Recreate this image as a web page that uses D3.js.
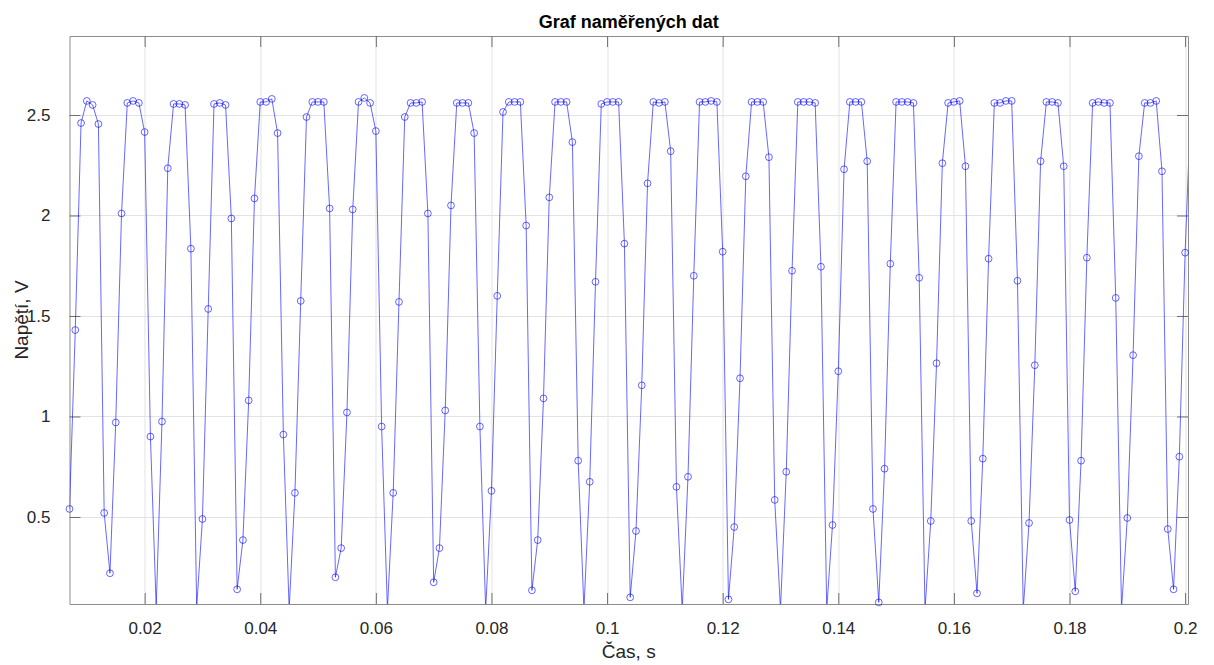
<!doctype html>
<html lang="cs">
<head>
  <meta charset="UTF-8">
  <title>Graf naměřených dat</title>
  <script src="https://cdnjs.cloudflare.com/ajax/libs/d3/7.8.5/d3.min.js"></script>
  <style>
    body { margin: 0; background: #fff; }
    svg text { font-family: "Liberation Sans", Arial, Helvetica, sans-serif; }
  </style>
</head>
<body>
<div id="chart"></div>
<script>
  // sample times (s)
  var time = [
    0.007, 0.008, 0.009, 0.010, 0.011, 0.012, 0.013, 0.014, 0.015, 0.016,
    0.017, 0.018, 0.019, 0.020, 0.021, 0.022, 0.023, 0.024, 0.025, 0.026,
    0.027, 0.028, 0.029, 0.030, 0.031, 0.032, 0.033, 0.034, 0.035, 0.036,
    0.037, 0.038, 0.039, 0.040, 0.041, 0.042, 0.043, 0.044, 0.045, 0.046,
    0.047, 0.048, 0.049, 0.050, 0.051, 0.052, 0.053, 0.054, 0.055, 0.056,
    0.057, 0.058, 0.059, 0.060, 0.061, 0.062, 0.063, 0.064, 0.065, 0.066,
    0.067, 0.068, 0.069, 0.070, 0.071, 0.072, 0.073, 0.074, 0.075, 0.076,
    0.077, 0.078, 0.079, 0.080, 0.081, 0.082, 0.083, 0.084, 0.085, 0.086,
    0.087, 0.088, 0.089, 0.090, 0.091, 0.092, 0.093, 0.094, 0.095, 0.096,
    0.097, 0.098, 0.099, 0.100, 0.101, 0.102, 0.103, 0.104, 0.105, 0.106,
    0.107, 0.108, 0.109, 0.110, 0.111, 0.112, 0.113, 0.114, 0.115, 0.116,
    0.117, 0.118, 0.119, 0.120, 0.121, 0.122, 0.123, 0.124, 0.125, 0.126,
    0.127, 0.128, 0.129, 0.130, 0.131, 0.132, 0.133, 0.134, 0.135, 0.136,
    0.137, 0.138, 0.139, 0.140, 0.141, 0.142, 0.143, 0.144, 0.145, 0.146,
    0.147, 0.148, 0.149, 0.150, 0.151, 0.152, 0.153, 0.154, 0.155, 0.156,
    0.157, 0.158, 0.159, 0.160, 0.161, 0.162, 0.163, 0.164, 0.165, 0.166,
    0.167, 0.168, 0.169, 0.170, 0.171, 0.172, 0.173, 0.174, 0.175, 0.176,
    0.177, 0.178, 0.179, 0.180, 0.181, 0.182, 0.183, 0.184, 0.185, 0.186,
    0.187, 0.188, 0.189, 0.190, 0.191, 0.192, 0.193, 0.194, 0.195, 0.196,
    0.197, 0.198, 0.199, 0.200, 0.201
  ];

  // measured voltage (V)
  var voltage = [
    0.54, 1.43, 2.46, 2.57, 2.55, 2.455, 0.52, 0.22, 0.97, 2.01,
    2.56, 2.57, 2.56, 2.415, 0.90, 0.05, 0.975, 2.235, 2.555, 2.555,
    2.55, 1.835, 0.05, 0.49, 1.535, 2.555, 2.56, 2.55, 1.985, 0.14,
    0.385, 1.08, 2.085, 2.565, 2.565, 2.58, 2.41, 0.91, 0.04, 0.62,
    1.575, 2.49, 2.565, 2.565, 2.565, 2.035, 0.20, 0.345, 1.02, 2.03,
    2.565, 2.585, 2.56, 2.42, 0.95, 0.04, 0.62, 1.57, 2.49, 2.56,
    2.56, 2.565, 2.01, 0.175, 0.345, 1.03, 2.05, 2.56, 2.56, 2.56,
    2.41, 0.95, 0.04, 0.63, 1.60, 2.515, 2.565, 2.565, 2.565, 1.95,
    0.135, 0.385, 1.09, 2.09, 2.565, 2.565, 2.565, 2.365, 0.78, 0.04,
    0.675, 1.67, 2.555, 2.565, 2.565, 2.565, 1.86, 0.10, 0.43, 1.155,
    2.16, 2.565, 2.56, 2.565, 2.32, 0.65, 0.04, 0.70, 1.70, 2.565,
    2.565, 2.57, 2.565, 1.82, 0.09, 0.45, 1.19, 2.195, 2.565, 2.565,
    2.565, 2.29, 0.585, 0.04, 0.725, 1.725, 2.565, 2.565, 2.565, 2.56,
    1.745, 0.04, 0.46, 1.225, 2.23, 2.565, 2.565, 2.565, 2.27, 0.54,
    0.075, 0.74, 1.76, 2.565, 2.565, 2.565, 2.56, 1.69, 0.04, 0.48,
    1.265, 2.26, 2.56, 2.565, 2.57, 2.245, 0.48, 0.12, 0.79, 1.785,
    2.56, 2.56, 2.57, 2.57, 1.675, 0.04, 0.47, 1.255, 2.27, 2.565,
    2.565, 2.56, 2.245, 0.485, 0.13, 0.78, 1.79, 2.56, 2.565, 2.56,
    2.56, 1.59, 0.04, 0.495, 1.305, 2.295, 2.56, 2.56, 2.57, 2.22,
    0.44, 0.14, 0.80, 1.815, 2.56
  ];

  var xTicks = [0.02, 0.04, 0.06, 0.08, 0.1, 0.12, 0.14, 0.16, 0.18, 0.2];
  var xTickLabels = ["0.02", "0.04", "0.06", "0.08", "0.1", "0.12", "0.14", "0.16", "0.18", "0.2"];
  var yTicks = [0.5, 1, 1.5, 2, 2.5];
  var yTickLabels = ["0.5", "1", "1.5", "2", "2.5"];
  var xDomain = [0.007, 0.2005];
  var yDomain = [0.067, 2.893];

  var titleText = "Graf naměřených dat";
  var xLabelText = "Čas, s";
  var yLabelText = "Napětí, V";

  var width = 1214,
      height = 665,
      margin = {top: 36, right: 26, bottom: 61, left: 69.5};
  var plotW = width - margin.left - margin.right,
      plotH = height - margin.top - margin.bottom;
  var tickLen = 11;
  var axisColor = "#262626";

  var data = time.map(function(t, i) { return {t: t, v: voltage[i]}; });

  var x = d3.scaleLinear().domain(xDomain).range([0, plotW]);
  var y = d3.scaleLinear().domain(yDomain).range([plotH, 0]);

  var svg = d3.select("#chart").append("svg")
      .attr("width", width)
      .attr("height", height);

  svg.append("defs").append("clipPath")
      .attr("id", "plot-clip")
    .append("rect")
      .attr("width", plotW)
      .attr("height", plotH);

  var g = svg.append("g")
      .attr("transform", "translate(" + margin.left + "," + margin.top + ")");

  // grid
  g.append("g").selectAll("line").data(xTicks).join("line")
      .attr("x1", function(d) { return Math.round(x(d)) + 0.5; })
      .attr("x2", function(d) { return Math.round(x(d)) + 0.5; })
      .attr("y1", 0).attr("y2", plotH)
      .attr("stroke", "#e3e3e3").attr("stroke-width", 1);
  g.append("g").selectAll("line").data(yTicks).join("line")
      .attr("y1", function(d) { return Math.round(y(d)) + 0.5; })
      .attr("y2", function(d) { return Math.round(y(d)) + 0.5; })
      .attr("x1", 0).attr("x2", plotW)
      .attr("stroke", "#e3e3e3").attr("stroke-width", 1);

  // axes (inward ticks, mirrored on top / right)
  var xBottom = g.append("g")
      .attr("transform", "translate(0," + plotH + ")")
      .call(d3.axisBottom(x).tickValues(xTicks)
        .tickFormat(function(d, i) { return xTickLabels[i]; })
        .tickSizeInner(-tickLen).tickSizeOuter(0).tickPadding(tickLen + 7));
  var xTop = g.append("g")
      .call(d3.axisTop(x).tickValues(xTicks).tickFormat("")
        .tickSizeInner(-tickLen).tickSizeOuter(0));
  var yLeft = g.append("g")
      .call(d3.axisLeft(y).tickValues(yTicks)
        .tickFormat(function(d, i) { return yTickLabels[i]; })
        .tickSizeInner(-tickLen).tickSizeOuter(0).tickPadding(tickLen + 8));
  var yRight = g.append("g")
      .attr("transform", "translate(" + plotW + ",0)")
      .call(d3.axisRight(y).tickValues(yTicks).tickFormat("")
        .tickSizeInner(-tickLen).tickSizeOuter(0));

  [xBottom, xTop, yLeft, yRight].forEach(function(ax) {
    ax.select(".domain").attr("stroke", "#8c8c8c").attr("stroke-width", 1);
    ax.selectAll(".tick line").attr("stroke", "#6e6e6e").attr("stroke-width", 1);
    ax.selectAll(".tick text")
        .attr("fill", axisColor)
        .style("font-size", "17px");
  });

  // data line
  var line = d3.line()
      .x(function(d) { return x(d.t); })
      .y(function(d) { return y(d.v); });

  g.append("path")
      .datum(data)
      .attr("clip-path", "url(#plot-clip)")
      .attr("fill", "none")
      .attr("stroke", "#0000ff")
      .attr("stroke-width", 0.6)
      .attr("d", line);

  // markers (only those whose centre is inside the axes)
  g.append("g").selectAll("circle")
      .data(data.filter(function(d) {
        return d.v >= yDomain[0] && d.v <= yDomain[1] && d.t >= xDomain[0] && d.t <= xDomain[1];
      }))
      .join("circle")
      .attr("cx", function(d) { return x(d.t); })
      .attr("cy", function(d) { return y(d.v); })
      .attr("r", 3.4)
      .attr("fill", "none")
      .attr("stroke", "#0000ff")
      .attr("stroke-width", 0.6);

  // title & labels
  svg.append("text")
      .attr("x", margin.left + plotW / 2)
      .attr("y", 28)
      .attr("text-anchor", "middle")
      .attr("fill", "#000")
      .style("font-size", "18px")
      .style("font-weight", "bold")
      .text(titleText);

  svg.append("text")
      .attr("x", margin.left + plotW / 2)
      .attr("y", 658)
      .attr("text-anchor", "middle")
      .attr("fill", axisColor)
      .style("font-size", "19px")
      .text(xLabelText);

  svg.append("text")
      .attr("transform", "translate(28," + (margin.top + plotH / 2) + ") rotate(-90)")
      .attr("text-anchor", "middle")
      .attr("fill", axisColor)
      .style("font-size", "19px")
      .text(yLabelText);
</script>
</body>
</html>
